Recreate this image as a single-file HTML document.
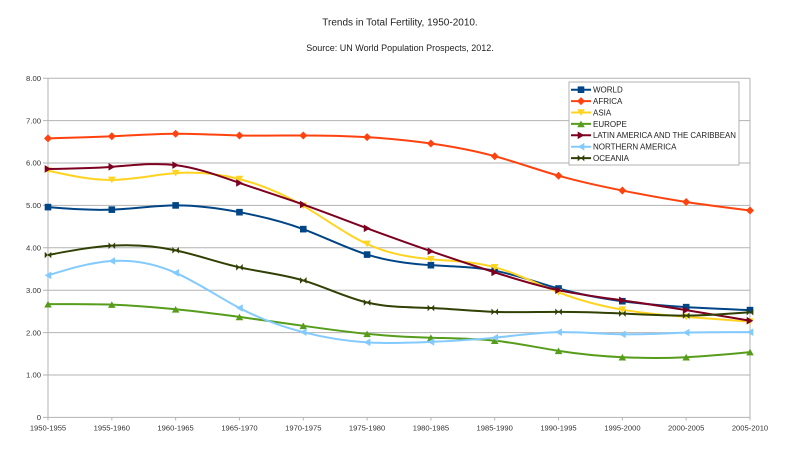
<!DOCTYPE html>
<html>
<head>
<meta charset="utf-8">
<style>
html,body{margin:0;padding:0;background:#fff;}
svg{display:block;}
text{font-family:"Liberation Sans",Arial,sans-serif;}
</style>
</head>
<body>
<svg id="c" width="800" height="451" viewBox="0 0 800 451" xmlns="http://www.w3.org/2000/svg">
<rect x="0" y="0" width="800" height="451" fill="#fff"/>
<text x="400" y="25.3" font-size="10" fill="#222" text-anchor="middle">Trends in Total Fertility, 1950-2010.</text>
<text x="400" y="51" font-size="9" fill="#222" text-anchor="middle">Source: UN World Population Prospects, 2012.</text>
<g id="grid" stroke="#b3b3b3" stroke-width="1" fill="none"></g>
<g font-size="7.7" fill="#333" text-anchor="end">
<text x="41" y="80.9">8.00</text>
<text x="41" y="123.3">7.00</text>
<text x="41" y="165.7">6.00</text>
<text x="41" y="208.1">5.00</text>
<text x="41" y="250.5">4.00</text>
<text x="41" y="292.9">3.00</text>
<text x="41" y="335.3">2.00</text>
<text x="41" y="377.7">1.00</text>
<text x="41" y="420.1">0</text>
</g>
<g font-size="7.6" fill="#333" text-anchor="middle">
<text x="48" y="430.5">1950-1955</text>
<text x="111.8" y="430.5">1955-1960</text>
<text x="175.6" y="430.5">1960-1965</text>
<text x="239.5" y="430.5">1965-1970</text>
<text x="303.3" y="430.5">1970-1975</text>
<text x="367.1" y="430.5">1975-1980</text>
<text x="430.9" y="430.5">1980-1985</text>
<text x="494.7" y="430.5">1985-1990</text>
<text x="558.5" y="430.5">1990-1995</text>
<text x="622.4" y="430.5">1995-2000</text>
<text x="686.2" y="430.5">2000-2005</text>
<text x="750" y="430.5">2005-2010</text>
</g>
<g id="series"></g>
<rect x="569" y="82" width="170" height="83" fill="#fff" stroke="#b3b3b3" stroke-width="1"/>
<g id="legsym"></g>
<g font-size="8" fill="#222">
<text x="593" y="92.6">WORLD</text>
<text x="593" y="104">AFRICA</text>
<text x="593" y="115.4">ASIA</text>
<text x="593" y="126.8">EUROPE</text>
<text x="593" y="138.2" textLength="143" lengthAdjust="spacingAndGlyphs">LATIN AMERICA AND THE CARIBBEAN</text>
<text x="593" y="149.6">NORTHERN AMERICA</text>
<text x="593" y="161">OCEANIA</text>
</g>
</svg>
<script>
(function(){
var NS="http://www.w3.org/2000/svg";
function el(tag,attrs,parent){var e=document.createElementNS(NS,tag);for(var k in attrs)e.setAttribute(k,attrs[k]);parent.appendChild(e);return e;}
var X0=48,X1=750,Y0=417.4,U=42.4;
var h=(X1-X0)/11;
function X(i){return X0+h*i;}
function Y(v){return Y0-U*v;}
var grid=document.getElementById('grid');
for(var v=0;v<=8;v++){var y=Y(v);el('line',{x1:43,y1:y,x2:X1,y2:y},grid);}
el('line',{x1:X0,y1:Y(8),x2:X0,y2:Y0},grid);
el('line',{x1:X1,y1:Y(8),x2:X1,y2:Y0},grid);
for(var i=0;i<12;i++){el('line',{x1:X(i),y1:Y0,x2:X(i),y2:Y0+3},grid);}

var data=[
 {c:"#004586",m:"sq",d:[4.96,4.90,5.00,4.84,4.44,3.84,3.59,3.46,3.04,2.74,2.60,2.53]},
 {c:"#ff420e",m:"di",d:[6.58,6.63,6.69,6.65,6.65,6.61,6.46,6.16,5.70,5.35,5.08,4.88]},
 {c:"#ffd320",m:"dn",d:[5.82,5.60,5.76,5.62,4.99,4.09,3.73,3.54,2.95,2.54,2.37,2.26]},
 {c:"#579d1c",m:"up",d:[2.67,2.66,2.55,2.37,2.16,1.97,1.88,1.81,1.57,1.42,1.42,1.54]},
 {c:"#7e0021",m:"rt",d:[5.86,5.91,5.95,5.53,5.02,4.46,3.92,3.42,3.00,2.76,2.53,2.28]},
 {c:"#83caff",m:"lt",d:[3.35,3.69,3.41,2.58,2.01,1.77,1.78,1.88,2.01,1.96,2.00,2.01]},
 {c:"#314004",m:"bt",d:[3.83,4.05,3.94,3.54,3.23,2.71,2.58,2.49,2.49,2.45,2.40,2.48]}
];
function spline(ys){
 var n=ys.length,M=new Array(n).fill(0);
 var a=[],b=[],c=[],r=[];
 for(var i=1;i<n-1;i++){a.push(1);b.push(4);c.push(1);r.push(6*(ys[i-1]-2*ys[i]+ys[i+1])/(h*h));}
 var m=r.length;
 for(var i=1;i<m;i++){var w=a[i]/b[i-1];b[i]-=w*c[i-1];r[i]-=w*r[i-1];}
 var s=new Array(m);
 s[m-1]=r[m-1]/b[m-1];
 for(var i=m-2;i>=0;i--){s[i]=(r[i]-c[i]*s[i+1])/b[i];}
 for(var i=0;i<m;i++)M[i+1]=s[i];
 var p="M"+X(0).toFixed(2)+","+ys[0].toFixed(2);
 for(var i=0;i<n-1;i++){
  var sl=(ys[i+1]-ys[i])/h;
  var d0=sl-h*(2*M[i]+M[i+1])/6;
  var d1=sl+h*(M[i]+2*M[i+1])/6;
  var x0=X(i),x1=X(i+1);
  p+=" C"+(x0+h/3).toFixed(2)+","+(ys[i]+d0*h/3).toFixed(2)+" "+(x1-h/3).toFixed(2)+","+(ys[i+1]-d1*h/3).toFixed(2)+" "+x1.toFixed(2)+","+ys[i+1].toFixed(2);
 }
 return p;
}
function marker(t,x,y,col,g){
 var s=3.3,pts;
 if(t=="sq"){el('rect',{x:x-s,y:y-s,width:2*s,height:2*s,fill:col},g);return;}
 if(t=="di")pts=[[x,y-s-0.7],[x+s+0.7,y],[x,y+s+0.7],[x-s-0.7,y]];
 if(t=="dn")pts=[[x-s-0.5,y-s],[x+s+0.5,y-s],[x,y+s]];
 if(t=="up")pts=[[x-s-0.5,y+s],[x+s+0.5,y+s],[x,y-s]];
 if(t=="rt")pts=[[x-s,y-s-0.5],[x-s,y+s+0.5],[x+s,y]];
 if(t=="lt")pts=[[x+s,y-s-0.5],[x+s,y+s+0.5],[x-s,y]];
 if(t=="bt")pts=[[x-s,y-s],[x+s,y+s],[x+s,y-s],[x-s,y+s]];
 el('polygon',{points:pts.map(function(q){return q[0].toFixed(2)+","+q[1].toFixed(2);}).join(" "),fill:col},g);
}
var sg=document.getElementById('series');
data.forEach(function(s){
 var ys=s.d.map(Y);
 el('path',{d:spline(ys),fill:"none",stroke:s.c,"stroke-width":2,"stroke-linejoin":"round"},sg);
 for(var i=0;i<12;i++)marker(s.m,X(i),ys[i],s.c,sg);
});
var lg=document.getElementById('legsym');
data.forEach(function(s,k){
 var y=89.7+11.4*k;
 el('line',{x1:571,y1:y,x2:591,y2:y,stroke:s.c,"stroke-width":2},lg);
 marker(s.m,581,y,s.c,lg);
});
})();
</script>
</body>
</html>
